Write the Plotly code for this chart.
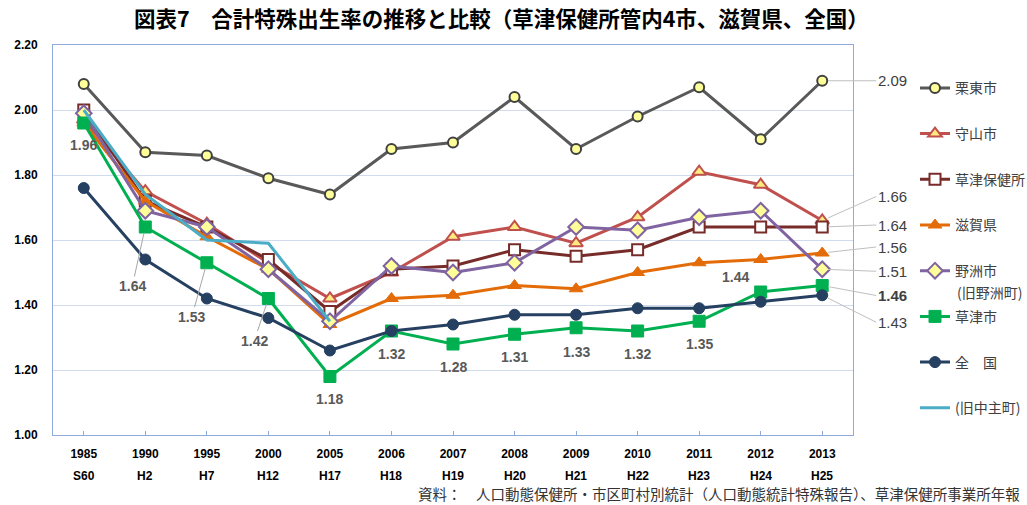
import plotly.graph_objects as go

years = ["1985", "1990", "1995", "2000", "2005", "2006", "2007", "2008", "2009", "2010", "2011", "2012", "2013"]
eras = ["S60", "H2", "H7", "H12", "H17", "H18", "H19", "H20", "H21", "H22", "H23", "H24", "H25"]

ritto = [2.08, 1.87, 1.86, 1.79, 1.74, 1.88, 1.90, 2.04, 1.88, 1.98, 2.07, 1.91, 2.09]
moriyama = [1.97, 1.75, 1.65, 1.53, 1.42, 1.50, 1.61, 1.64, 1.59, 1.67, 1.81, 1.77, 1.66]
hokenjo = [2.00, 1.72, 1.64, 1.54, 1.38, 1.51, 1.52, 1.57, 1.55, 1.57, 1.64, 1.64, 1.64]
shiga = [1.96, 1.72, 1.61, 1.51, 1.34, 1.42, 1.43, 1.46, 1.45, 1.50, 1.53, 1.54, 1.56]
yasu = [1.99, 1.69, 1.64, 1.51, 1.35, 1.52, 1.50, 1.53, 1.64, 1.63, 1.67, 1.69, 1.51]
kusatsu = [1.96, 1.64, 1.53, 1.42, 1.18, 1.32, 1.28, 1.31, 1.33, 1.32, 1.35, 1.44, 1.46]
zenkoku = [1.76, 1.54, 1.42, 1.36, 1.26, 1.32, 1.34, 1.37, 1.37, 1.39, 1.39, 1.41, 1.43]
chuzu = [2.00, 1.74, 1.60, 1.59, 1.35, None, None, None, None, None, None, None, None]

names = ["栗東市", "守山市", "草津保健所", "滋賀県", "野洲市", "草津市", "全　国", "(旧中主町)"]
yasu_sub = "(旧野洲町)"

JP = "Noto Sans CJK JP"
NUM = "Liberation Sans"

# category positions (index along the category axis)
pos = list(range(len(years)))

fig = go.Figure()

series = [
    (ritto, names[0], "#595959", dict(symbol="circle", size=10, color="#ffff99", line=dict(color="#404040", width=2))),
    (moriyama, names[1], "#c0504d", dict(symbol="triangle-up", size=12, color="#ffeb80", line=dict(color="#c0504d", width=2))),
    (hokenjo, names[2], "#772c2a", dict(symbol="square", size=11, color="#ffffff", line=dict(color="#772c2a", width=2))),
    (shiga, names[3], "#e36c09", dict(symbol="triangle-up", size=12, color="#e36c09", line=dict(color="#e36c09", width=1))),
    (yasu, names[4], "#8064a2", dict(symbol="diamond", size=12, color="#ffff99", line=dict(color="#8064a2", width=2))),
    (kusatsu, names[5], "#00b050", dict(symbol="square", size=12, color="#00b050", line=dict(color="#00b050", width=1))),
    (zenkoku, names[6], "#254061", dict(symbol="circle", size=11, color="#254061", line=dict(color="#254061", width=1))),
]

for i, (vals, nm, col, mk) in enumerate(series):
    fig.add_trace(go.Scatter(
        x=years, y=vals, name=nm, mode="lines+markers",
        line=dict(color=col, width=3), marker=mk, legendgroup=f"g{i}",
    ))

fig.add_trace(go.Scatter(
    x=years, y=chuzu, name=names[7], mode="lines",
    line=dict(color="#4bacc6", width=3), legendgroup="g7", connectgaps=False,
))

annotations = []

# Green line data labels (草津市)
green_offsets = {
    0: (0, 22, False), 1: (-13, 59, True), 2: (-15, 54, True), 3: (-14, 42, True),
    4: (0, 22, False), 5: (0, 23, False), 6: (0, 23, False), 7: (0, 23, False),
    8: (0, 24, False), 9: (0, 23, False), 10: (0, 23, False), 11: (-25, -15, False),
}
for idx, (dx, dy, arrow) in green_offsets.items():
    if arrow:
        annotations.append(dict(
            x=pos[idx], y=kusatsu[idx], xref="x", yref="y", text=f"{kusatsu[idx]:.2f}",
            showarrow=True, arrowhead=0, arrowwidth=1, arrowcolor="#a6a6a6",
            ax=dx, ay=dy, standoff=6,
            font=dict(family=NUM, size=14, color="#595959", weight="bold"),
        ))
    else:
        annotations.append(dict(
            x=pos[idx], y=kusatsu[idx], xref="x", yref="y", text=f"{kusatsu[idx]:.2f}",
            showarrow=False, xshift=dx, yshift=-dy,
            font=dict(family=NUM, size=14, color="#595959", weight="bold"),
        ))

# Right-side end labels with leader lines
end_labels = [
    (ritto, 0, "normal"), (moriyama, -24, "normal"), (hokenjo, -2, "normal"),
    (shiga, -6, "normal"), (yasu, 2, "normal"), (kusatsu, 10, "bold"), (zenkoku, 27, "normal"),
]
for vals, dy, wt in end_labels:
    annotations.append(dict(
        x=pos[-1], y=vals[-1], xref="x", yref="y", text=f"{vals[-1]:.2f}",
        showarrow=True, arrowhead=0, arrowwidth=1, arrowcolor="#bfbfbf",
        ax=54, ay=dy, standoff=6, xanchor="left",
        font=dict(family=NUM, size=15, color="#404040", weight=wt),
    ))

# Era labels (second row of x tick labels)
for p, e in zip(pos, eras):
    annotations.append(dict(
        x=p, y=0, xref="x", yref="paper", text=e, showarrow=False,
        yanchor="top", yshift=-32,
        font=dict(family=NUM, size=12, color="#000000", weight="bold"),
    ))

# Second line of the 野洲市 legend entry
annotations.append(dict(
    x=1.128, y=0.3667, xref="paper", yref="paper", xanchor="left", yanchor="middle",
    text=yasu_sub, showarrow=False, font=dict(family=JP, size=14, color="#404040"),
))

# Title
annotations.append(dict(
    x=0.56, y=1, xref="paper", yref="paper", yanchor="bottom", yshift=10,
    text="図表7　合計特殊出生率の推移と比較（草津保健所管内4市、滋賀県、全国）",
    showarrow=False, font=dict(family=JP, size=21.5, color="#000000", weight="bold"),
))

# Source note
annotations.append(dict(
    x=1.211, y=-0.151, xref="paper", yref="paper", xanchor="right", yanchor="middle",
    text="資料：　人口動態保健所・市区町村別統計（人口動態統計特殊報告）、草津保健所事業所年報",
    showarrow=False, font=dict(family=JP, size=14.5, color="#333333"),
))

fig.update_layout(
    width=1027, height=505, autosize=False,
    margin=dict(l=53, r=174, t=45, b=70, autoexpand=False),
    paper_bgcolor="white", plot_bgcolor="white",
    showlegend=True,
    legend=dict(
        x=1.0775, y=0.93, xanchor="left", yanchor="top",
        font=dict(family=JP, size=14, color="#404040"),
        tracegroupgap=24.5, valign="middle", bgcolor="rgba(0,0,0,0)",
    ),
    annotations=annotations,
    xaxis=dict(
        type="category", categoryorder="array", categoryarray=years,
        range=[-0.5, len(years) - 0.5], autorange=False, automargin=False,
        ticks="inside", ticklen=4, tickcolor="#8eaadb",
        showline=True, linecolor="#8eaadb", linewidth=1, mirror=True,
        showgrid=False, ticklabelstandoff=8,
        tickfont=dict(family=NUM, size=12, color="#000000", weight="bold"),
    ),
    yaxis=dict(
        range=[1.0, 2.2], dtick=0.2, tickformat=".2f", autorange=False, automargin=False,
        showgrid=True, gridcolor="#d0dcee", gridwidth=1, zeroline=False,
        showline=True, linecolor="#8eaadb", linewidth=1, mirror=True,
        ticklabelstandoff=12,
        tickfont=dict(family=NUM, size=12, color="#000000", weight="bold"),
    ),
)

fig.write_html(
    "out.html",
    config={"displayModeBar": False},
    post_script="document.body.style.margin='0';document.body.style.overflow='hidden';",
)
